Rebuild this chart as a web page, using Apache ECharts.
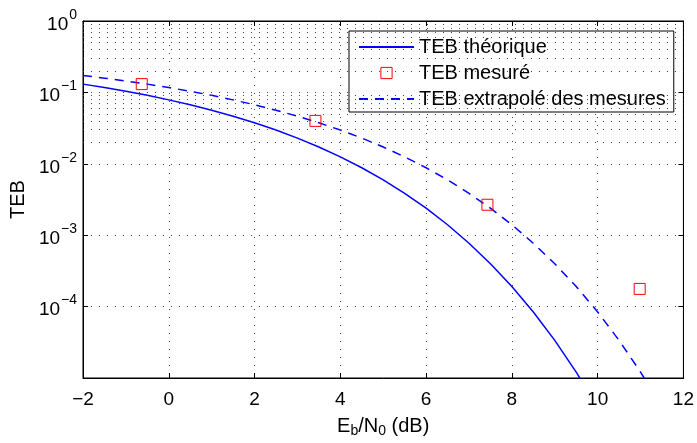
<!DOCTYPE html>
<html><head><meta charset="utf-8">
<script src="https://cdn.jsdelivr.net/npm/echarts@6/dist/echarts.min.js"></script>
<style>html,body{margin:0;padding:0;background:#fff}#c{width:697px;height:443px}</style>
</head><body><div id="c"></div>
<script>
// Theoretical BER curve
const ebn0Theo = [-2,-1.5,-1,-0.5,0,0.5,1,1.5,2,2.5,3,3.5,4,4.5,5,5.5,6,6.5,7,7.5,8,8.5,9,9.5,10];
const tebTheorique = [0.1306,0.1170,0.1038,0.0909,0.0786,0.0671,0.0563,0.0464,0.0375,0.0297,0.0229,0.0172,0.0125,0.0088,0.00595,0.00386,0.00239,0.00140,0.00077,0.000398,0.000191,0.000084,0.0000336,0.0000121,0.00000387];
// Measured points
const ebn0Mes = [-0.63,3.42,7.43,10.98];
const tebMesure = [0.1306,0.0399,0.00267,0.000177];
// Extrapolated curve
const ebn0Ext = [-2,-1.5,-1,-0.5,0,0.5,1,1.5,2,2.5,3,3.5,4,4.5,5,5.5,6,6.5,7,7.5,8,8.5,9,9.5,10,10.5,11,11.5];
const tebExtrapole = [0.1723,0.1584,0.1445,0.1306,0.1170,0.1038,0.0909,0.0786,0.0671,0.0563,0.0464,0.0375,0.0297,0.0229,0.0172,0.0125,0.0088,0.00595,0.00386,0.00239,0.00140,0.00077,0.000398,0.000191,0.000084,0.0000336,0.0000121,0.00000387];
// Axis ranges / ticks
const xMin = -2, xMax = 12, xStep = 2;
const yMin = 1e-5, yMax = 1;
const yDecades = [-5,-4,-3,-2,-1];
const minorMult = [2,3,4,5,6,7,8,9];
const seriesNames = ['TEB théorique','TEB mesuré','TEB extrapolé des mesures'];

const FONT = "'Liberation Sans', Arial, Helvetica, sans-serif";
const minorVals = [];
yDecades.forEach(k => minorMult.forEach(m => minorVals.push(m * Math.pow(10, k))));
const dotted = {color:'#444', type:[1,7], width:1};
const zip = (a,b) => a.map((v,i)=>[v,b[i]]);

const chart = echarts.init(document.getElementById('c'), null, {renderer:'canvas'});
chart.setOption({
  animation:false,
  backgroundColor:'#fff',
  textStyle:{fontFamily:FONT},
  grid:{left:82, right:13, top:21, bottom:60, show:true, borderColor:'#000', borderWidth:1, backgroundColor:'transparent'},
  legend:{
    orient:'vertical', left:349, top:31,
    itemWidth:55, itemHeight:14, itemGap:6,
    padding:[6,8,3,9],
    borderColor:'#000', borderWidth:1, borderRadius:0, backgroundColor:'#fff',
    textStyle:{fontSize:20, color:'#000', fontFamily:FONT, lineHeight:20},
    data:[
      {name:seriesNames[0], itemStyle:{opacity:0}},
      {name:seriesNames[1], itemStyle:{borderWidth:1, borderColor:'#ff0000', color:'rgba(0,0,0,0)'}},
      {name:seriesNames[2], itemStyle:{opacity:0}}
    ]
  },
  xAxis:[{
    type:'value', min:xMin, max:xMax, interval:xStep,
    name:'E{sub|b}/N{sub|0} (dB)', nameLocation:'middle', nameGap:36,
    nameTextStyle:{fontSize:20, color:'#000', fontFamily:FONT, rich:{sub:{fontSize:14, verticalAlign:'bottom', padding:[10,0,0,0], fontFamily:FONT, color:'#000'}}},
    axisLine:{onZero:false, lineStyle:{color:'#000', width:1}},
    axisTick:{inside:true, length:5, lineStyle:{color:'#000'}},
    axisLabel:{fontSize:19, color:'#000', margin:12, fontFamily:FONT, formatter:v => v < 0 ? '\u2212' + Math.abs(v) : String(v)},
    splitLine:{show:true, lineStyle:dotted}
  },{
    type:'value', min:xMin, max:xMax, interval:xStep, position:'top',
    axisLine:{onZero:false, lineStyle:{color:'#000'}},
    axisTick:{inside:true, length:5, lineStyle:{color:'#000'}},
    axisLabel:{show:false}, splitLine:{show:false}
  }],
  yAxis:[{
    type:'log', logBase:10, min:yMin, max:yMax,
    name:'TEB', nameLocation:'middle', nameGap:49, nameRotate:90,
    nameTextStyle:{fontSize:20, color:'#000', fontFamily:FONT},
    axisLine:{onZero:false, lineStyle:{color:'#000', width:1}},
    axisTick:{inside:true, length:5, lineStyle:{color:'#000'}},
    axisLabel:{
      color:'#000', margin:6, fontFamily:FONT,
      formatter:v => {
        const e = Math.round(Math.log10(v));
        if (e <= -5) return '';
        return '{b|10}{s|' + (e < 0 ? '\u2212' + Math.abs(e) : e) + '}';
      },
      rich:{
        b:{fontSize:19, color:'#000', fontFamily:FONT, verticalAlign:'bottom', lineHeight:26},
        s:{fontSize:14, color:'#000', fontFamily:FONT, verticalAlign:'top', lineHeight:14, padding:[0,0,0,1]}
      }
    },
    splitLine:{show:true, lineStyle:dotted}
  },{
    type:'log', logBase:10, min:yMin, max:yMax, position:'right',
    axisLine:{onZero:false, lineStyle:{color:'#000'}},
    axisTick:{inside:true, length:5, lineStyle:{color:'#000'}},
    axisLabel:{show:false}, splitLine:{show:false}
  }],
  series:[{
    name:seriesNames[0], type:'line', data:zip(ebn0Theo, tebTheorique),
    showSymbol:false, symbol:'none', clip:true,
    lineStyle:{color:'#0000ff', width:1.5}, itemStyle:{color:'#0000ff'},
    z:3,
    markLine:{silent:true, symbol:['none','none'], label:{show:false}, lineStyle:dotted,
      emphasis:{disabled:true}, data:minorVals.map(v => ({yAxis:v}))}
  },{
    name:seriesNames[2], type:'line', data:zip(ebn0Ext, tebExtrapole),
    showSymbol:false, symbol:'none', clip:true,
    lineStyle:{color:'#0000ff', width:1.5, type:[9,7]}, itemStyle:{color:'#0000ff'},
    z:3
  },{
    name:seriesNames[1], type:'line', data:zip(ebn0Mes, tebMesure),
    symbol:'rect', symbolSize:11, showSymbol:true, clip:true,
    lineStyle:{opacity:0, width:0}, itemStyle:{color:'rgba(0,0,0,0)', borderColor:'#ff0000', borderWidth:1},
    z:4
  }]
});
</script></body></html>
